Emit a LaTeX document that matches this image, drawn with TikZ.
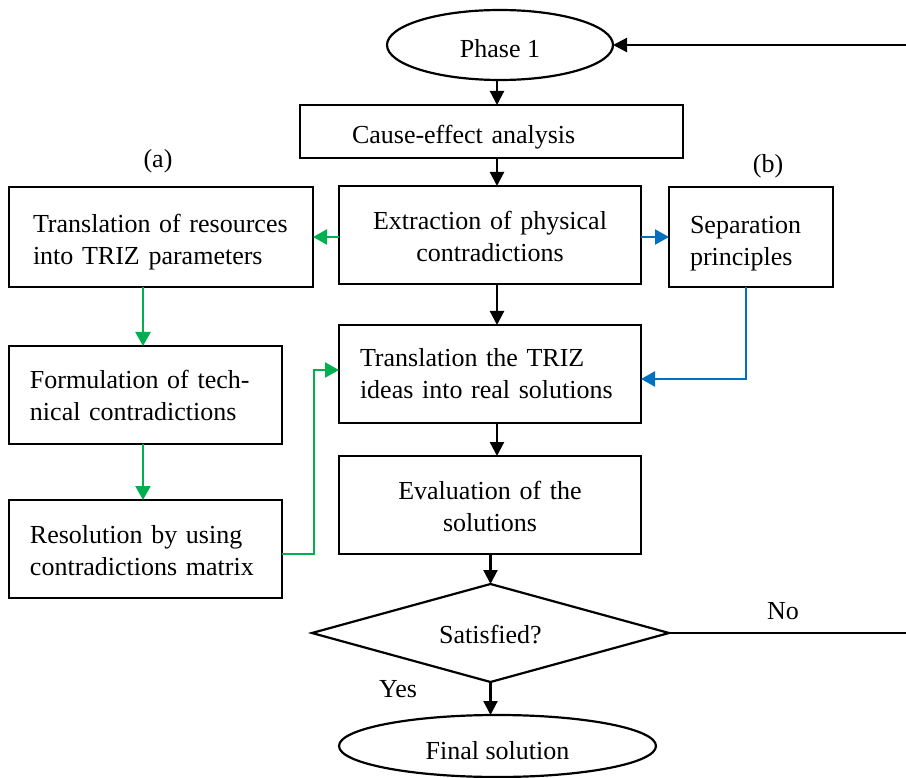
\documentclass[tikz,border=0pt]{standalone}
\usepackage{fontspec}
\setmainfont{Liberation Serif}
\usetikzlibrary{shapes.geometric,arrows.meta,calc}
\definecolor{wgreen}{RGB}{0,176,80}
\definecolor{wblue}{RGB}{0,112,192}
\newcommand\sdn[1]{\rule{0pt}{\dimexpr 17.8pt+2\dimexpr #1\relax\relax}}
\tikzset{
  every node/.style={font=\fontsize{26}{32}\selectfont},
  box/.style={draw,line width=2.2pt,rectangle,inner ysep=0pt,outer sep=0pt},
  oval/.style={draw,line width=2.2pt,ellipse,inner sep=0pt,outer sep=0pt},
  decide/.style={draw,line width=2.2pt,diamond,inner sep=0pt,outer sep=0pt},
  arr/.style={line width=2.2pt,-{Triangle[length=14pt,width=14pt]}},
  garr/.style={arr,draw=wgreen,-{Triangle[length=14pt,width=15pt,fill=wgreen]}},
  barr/.style={arr,draw=wblue,-{Triangle[length=14pt,width=15pt,fill=wblue]}},
  plain/.style={line width=2.2pt}
}
\begin{document}
\begin{tikzpicture}[x=1pt,y=-1pt]
\useasboundingbox (0,0) rectangle (906,778);
% nodes
\node[oval,minimum width=226,minimum height=70] (phase) at (500,45) {\sdn{4pt}Phase 1};
\node[box,minimum width=383,minimum height=53,text width=279,inner xsep=52,align=left] (cause) at (491.5,131.5) {\sdn{6pt}Cause-effect analysis};
\node (la) at (158,161) {(a)};
\node (lb) at (768,166) {(b)};
\node[box,minimum width=304,minimum height=100,text width=256,inner xsep=24,align=left] (trans) at (161,237) {\sdn{5pt}Translation of resources\\into TRIZ parameters};
\node[box,minimum width=302,minimum height=98,text width=270,inner xsep=16,align=center] (extract) at (490,235) {\sdn{2pt}Extraction of physical\\contradictions};
\node[box,minimum width=164,minimum height=100,text width=122,inner xsep=21,align=left] (sep) at (751,237) {\sdn{6pt}Separation\\principles};
\node[box,minimum width=302,minimum height=98,text width=260,inner xsep=21,align=left] (trz) at (490,374) {Translation the TRIZ\\ideas into real solutions};
\node[box,minimum width=273,minimum height=98,text width=231,inner xsep=21,align=left] (form) at (145.5,395) {\sdn{1pt}Formulation of tech-\\nical contradictions};
\node[box,minimum width=273,minimum height=98,text width=231,inner xsep=21,align=left] (resol) at (145.5,549) {\sdn{2pt}Resolution by using\\contradictions matrix};
\node[box,minimum width=302,minimum height=98,text width=270,inner xsep=16,align=center] (eval) at (490,505) {\sdn{2pt}Evaluation of the\\solutions};
\node[decide,minimum width=357,minimum height=98,aspect=3.6] (sat) at (490.5,633) {\sdn{2pt}Satisfied?};
\node[oval,minimum width=317,minimum height=62] (final) at (497.5,746) {\sdn{5pt}Final solution};
\node (yes) at (398,689) {Yes};
\node (no) at (783,611) {No};
\coordinate (ax) at (497,0);
\coordinate (gx) at (143,0);
\coordinate (bx) at (746,0);
\coordinate (fbtop) at (909,45);
% black connectors
\draw[arr] (phase.south -| ax) -- (cause.north -| ax);
\draw[arr] (cause.south -| ax) -- (extract.north -| ax);
\draw[arr] (extract.south -| ax) -- (trz.north -| ax);
\draw[arr] (trz.south -| ax) -- (eval.north -| ax);
\draw[arr] (eval.south -| sat.north) -- (sat.north);
\draw[arr] (sat.south) -- (sat.south |- final.north);
\draw[arr] (sat.east) -| (fbtop) -- (phase.east);
% green connectors
\draw[garr] (extract.west |- trans.east) -- (trans.east);
\draw[garr] (trans.south -| gx) -- (form.north -| gx);
\draw[garr] (form.south -| gx) -- (resol.north -| gx);
\draw[garr] ($(resol.east)+(0,5)$) -- ++(32,0) |- ($(trz.west)+(0,-4)$);
% blue connectors
\draw[barr] (extract.east |- sep.west) -- (sep.west);
\draw[barr] (sep.south -| bx) |- ($(trz.east)+(0,5)$);
\end{tikzpicture}
\end{document}
